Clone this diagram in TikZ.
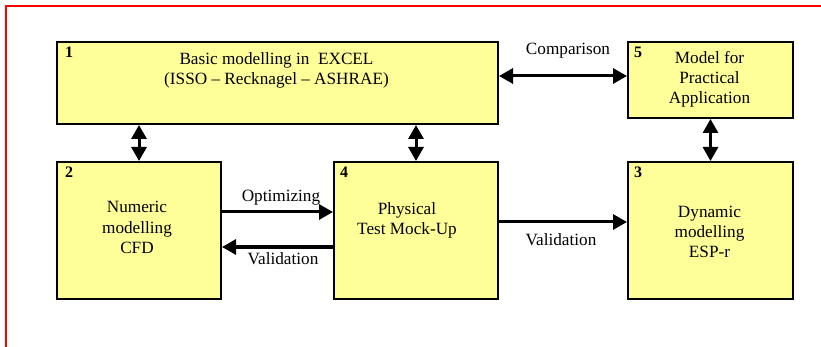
\documentclass[tikz,border=0pt]{standalone}
\usepackage{fontspec}
\setmainfont{Liberation Serif}
\usetikzlibrary{arrows.meta,calc}
\definecolor{boxfill}{RGB}{255,255,153}
\tikzset{
  stage/.style={draw=black, line width=2pt, fill=boxfill, inner sep=0pt, anchor=north west},
  stagetext/.style={font=\fontsize{17.2}{20}\selectfont, align=center, inner sep=0pt, anchor=base},
  stagenum/.style={font=\fontsize{16}{19}\selectfont\bfseries, inner sep=0pt, anchor=base},
  linktext/.style={font=\fontsize{17.2}{20}\selectfont, inner sep=0pt, anchor=base},
  link/.style={line width=3pt, -{Triangle[length=14pt,width=15pt]}},
  biglink/.style={line width=3pt, {Triangle[length=14pt,width=15pt]}-{Triangle[length=14pt,width=15pt]}}
}
\begin{document}
\begin{tikzpicture}[x=1pt,y=-1pt]
\useasboundingbox (0,0) rectangle (821,347);
% outer frame
\draw[red, line width=2pt] (6,348) -- (6,6) -- (822,6);

% stage boxes
\node[stage, minimum width=441pt, minimum height=82pt] (b1) at (56,41) {};
\node[stage, minimum width=165pt, minimum height=76pt] (b5) at (627,41) {};
\node[stage, minimum width=164pt, minimum height=137pt] (b2) at (56,161) {};
\node[stage, minimum width=164pt, minimum height=137pt] (b4) at (333,161) {};
\node[stage, minimum width=165pt, minimum height=137pt] (b3) at (627,161) {};

% stage numbers
\node[stagenum] (n1) at ($(b1.north west)+(13,17)$) {1};
\node[stagenum] (n5) at ($(b5.north west)+(11,17)$) {5};
\node[stagenum] (n2) at ($(b2.north west)+(13,17)$) {2};
\node[stagenum] (n4) at ($(b4.north west)+(11,17)$) {4};
\node[stagenum] (n3) at ($(b3.north west)+(11,17)$) {3};

% stage descriptions (placed by the baseline of their last line)
\node[stagetext] (t1) at (276.5,85) {Basic modelling in~~EXCEL\\(ISSO -- Recknagel -- ASHRAE)};
\node[stagetext] (t5) at (709.5,104) {Model for\\Practical\\Application};
\node[stagetext] (t2) at (137,253) {Numeric\\modelling\\CFD};
\node[stagetext] (t4) at (407,234) {Physical\\Test Mock-Up};
\node[stagetext] (t3) at (709.5,258) {Dynamic\\modelling\\ESP-r};

% connections
\draw[biglink] (b2.north |- b1.south) -- (b2.north);
\draw[biglink] (b4.north |- b1.south) -- (b4.north);
\draw[biglink] (b5.south) -- (b3.north);
\draw[biglink] ($(b1.north east)+(0,35)$) -- ($(b5.north west)+(0,35)$);
\draw[link] ($(b2.north east)+(0,51)$) -- ($(b4.north west)+(0,51)$);
\draw[link] ($(b4.north west)+(0,86)$) -- ($(b2.north east)+(0,86)$);
\draw[link] ($(b4.north east)+(0,61)$) -- ($(b3.north west)+(0,61)$);

% connection labels
\node[linktext] (l1) at (568,55) {Comparison};
\node[linktext] (l2) at (281,202) {Optimizing};
\node[linktext] (l3) at (283,265) {Validation};
\node[linktext] (l4) at (561,245) {Validation};
\end{tikzpicture}
\end{document}
